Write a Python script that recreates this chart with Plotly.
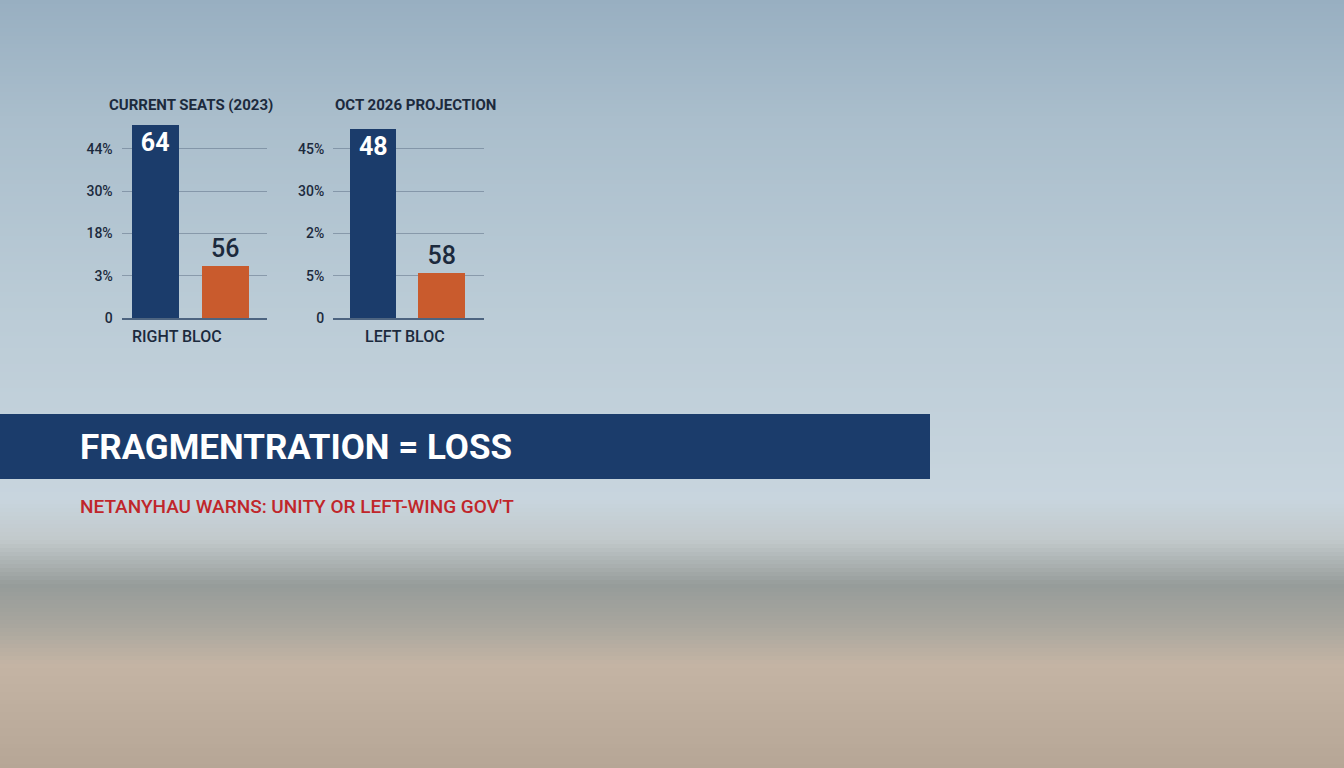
import plotly.graph_objects as go

# ---- data (bar heights in axis-tick units) ----
bloc_categories = ["Right bloc", "Left bloc"]
current_heights = [4.56, 1.23]
current_labels = ["64", "56"]
current_ticks = ["0", "3%", "18%", "30%", "44%"]

projection_heights = [4.46, 1.06]
projection_labels = ["48", "58"]
projection_ticks = ["0", "5%", "2%", "30%", "45%"]

tick_positions = [0, 1, 2, 3, 4]

NAVY = "#1b3c6b"
ORANGE = "#c95b2d"
INK = "#1c2a3d"
FONT = "Roboto, Liberation Sans, sans-serif"

fig = go.Figure()

def add_chart(heights, labels, xa, ya):
    fig.add_trace(go.Bar(
        x=[0], y=[heights[0]], text=[labels[0]], width=0.68,
        marker=dict(color=NAVY, line=dict(width=0)),
        textposition="inside", insidetextanchor="end",
        textfont=dict(family=FONT, size=25, color="white", weight=700),
        xaxis=xa, yaxis=ya, showlegend=False, hoverinfo="skip",
        cliponaxis=False,
    ))
    fig.add_trace(go.Bar(
        x=[1], y=[heights[1]], text=[labels[1]], width=0.68,
        marker=dict(color=ORANGE, line=dict(width=0)),
        textposition="outside",
        textfont=dict(family=FONT, size=25, color=INK, weight=500),
        xaxis=xa, yaxis=ya, showlegend=False, hoverinfo="skip",
        cliponaxis=False,
    ))

add_chart(current_heights, current_labels, "x", "y")
add_chart(projection_heights, projection_labels, "x2", "y2")

W, H = 1344, 768
def px(x): return x / W
def py(y): return 1 - y / H

yaxis_common = dict(
    range=[0, 5], tickvals=tick_positions, showgrid=True,
    gridcolor="rgba(90,108,130,0.5)", gridwidth=1, zeroline=False,
    showline=False, ticks="", ticklabelstandoff=8, automargin=False,
    tickfont=dict(family=FONT, size=14, color=INK, weight=500), fixedrange=True,
)
xaxis_common = dict(
    showgrid=False, zeroline=False, showticklabels=False, ticks="",
    showline=True, linecolor="#4d6480", linewidth=1.5, fixedrange=True,
    automargin=False,
)

fig.update_layout(
    width=W, height=H, autosize=False,
    margin=dict(l=0, r=0, t=0, b=0, pad=0, autoexpand=False),
    paper_bgcolor="#b6a696",
    plot_bgcolor="rgba(0,0,0,0)",
    bargap=0,
    xaxis=dict(domain=[px(121.7), px(266.7)], range=[-0.48, 1.59], anchor="y", **xaxis_common),
    yaxis=dict(domain=[py(318.3), py(106.3)], anchor="x", ticktext=current_ticks, **yaxis_common),
    xaxis2=dict(domain=[px(333.3), px(484)], range=[-0.58, 1.61], anchor="y2", **xaxis_common),
    yaxis2=dict(domain=[py(318.3), py(106.3)], anchor="x2", ticktext=projection_ticks, **yaxis_common),
)

# ---- background: soft vertical gradient (sky -> blurred city) ----
stops = [
    (0, (152, 175, 193)), (120, (170, 190, 204)), (300, (186, 203, 214)),
    (500, (200, 213, 222)), (540, (194, 201, 203)), (585, (150, 156, 154)),
    (625, (168, 166, 158)), (665, (196, 180, 164)), (768, (182, 166, 150)),
]
def color_at(y):
    for (ya, ca), (yb, cb) in zip(stops, stops[1:]):
        if ya <= y <= yb:
            t = (y - ya) / (yb - ya)
            return "rgb(%d,%d,%d)" % tuple(round(a + (b - a) * t) for a, b in zip(ca, cb))
    return "rgb(%d,%d,%d)" % stops[-1][1]

step = 4
for y0 in range(0, H, step):
    fig.add_shape(type="rect", xref="paper", yref="paper", layer="below",
                  x0=0, x1=1, y0=py(min(y0 + step + 1, H)), y1=py(y0),
                  fillcolor=color_at(y0 + step / 2), line=dict(width=0))

# headline banner
fig.add_shape(type="rect", xref="paper", yref="paper", layer="below",
              x0=0, x1=px(930), y0=py(479), y1=py(414),
              fillcolor=NAVY, line=dict(width=0))

ann = [
    dict(text="CURRENT SEATS (2023)", x=px(191), y=py(105), size=15, color=INK, w=700),
    dict(text="OCT 2026 PROJECTION", x=px(415), y=py(105), size=15, color=INK, w=700),
    dict(text="RIGHT BLOC", x=px(130), y=py(336), size=16, color=INK, w=500, xanchor="left"),
    dict(text="LEFT BLOC", x=px(363), y=py(336), size=16, color=INK, w=500, xanchor="left"),
    dict(text="FRAGMENTRATION = LOSS", x=px(78), y=py(447), size=35, color="white", w=700, xanchor="left"),
    dict(text="NETANYHAU WARNS: UNITY OR LEFT-WING GOV'T", x=px(78), y=py(506), size=19, color="#c0262a", w=500, xanchor="left"),
]
for a in ann:
    fig.add_annotation(text=a["text"], x=a["x"], y=a["y"], xref="paper", yref="paper",
                       xanchor=a.get("xanchor", "center"), yanchor="middle", showarrow=False,
                       font=dict(family=FONT, size=a["size"], color=a["color"], weight=a["w"]))

fig.write_html(
    "out.html",
    config={"displayModeBar": False},
    post_script=(
        "document.documentElement.style.overflow='hidden';"
        "document.documentElement.style.background='#b6a696';"
        "document.body.style.margin='0';"
        "document.body.style.overflow='hidden';"
        "document.body.style.height='768px';"
    ),
)
